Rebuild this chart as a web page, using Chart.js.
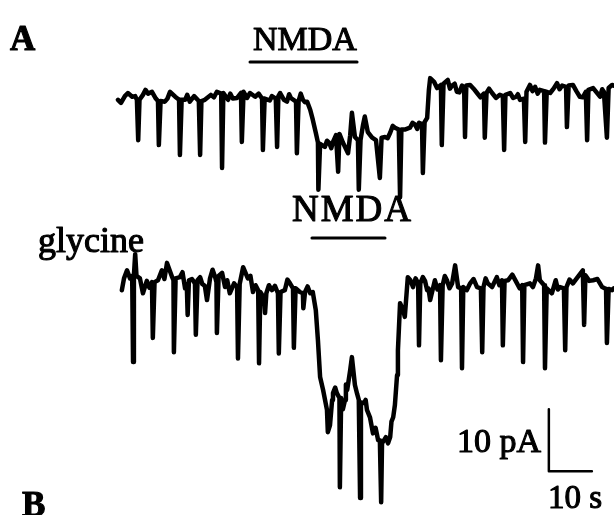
<!DOCTYPE html>
<html>
<head>
<meta charset="utf-8">
<script src="https://cdn.jsdelivr.net/npm/chart.js@4"></script>
<style>
    body { margin: 0; background: #ffffff; }
    canvas { display: block; }
</style>
</head>
<body>
<canvas id="registro" width="614" height="515"></canvas>
<script>
// registro A: NMDA solo. pares [tiempo (s), corriente (pA)] respecto a la linea base
const trazoA = [
    [0, -0.8], [0.7, -1.3], [1.6, -0.2], [2.3, 0.3], [3.3, -0.3], [4.0, -0.2], [4.4, -0.8], [4.7, -7.3], [5.0, -0.8],
    [5.8, 0], [6.4, 0.8], [7.0, 0.2], [7.9, 0.5], [8.8, -0.6], [9.3, -1.0], [9.5, -8.1], [9.9, -1.0], [10.9, -1.1],
    [11.5, -0.6], [12.1, 0.5], [13.3, -0.3], [14.2, -0.8], [14.4, -9.7], [14.8, -0.8], [15.6, -0.8], [16.1, 0],
    [16.7, -1.1], [17.7, -0.2], [18.8, -1.0], [19.1, -9.7], [19.4, -1.0], [20.2, -0.8], [21.6, 0], [22.3, -0.4],
    [23.0, 0.5], [24.0, 0.2], [24.2, -11.8], [24.5, 0.3], [25.6, -0.8], [26.1, 0.2], [26.7, -0.6], [27.7, -0.5],
    [28.6, 0.3], [28.8, -7.6], [29.2, 0.5], [30.0, -0.5], [30.7, 0.3], [31.9, -0.3], [32.7, 0.2], [33.5, -0.6],
    [33.7, -8.9], [34.1, -0.6], [34.9, -0.8], [35.3, -0.9], [35.8, -0.2], [36.7, -0.6], [37.0, -8.4], [37.3, -0.2],
    [37.7, 0.3], [38.6, -0.8], [39.3, -1.1], [39.8, 0.1], [40.2, -0.5], [41.4, -1.1], [41.6, -9.4], [42.0, -1.0],
    [42.5, 0.2], [43.0, -0.8], [43.5, -1.2], [44.0, -1.1], [44.7, -2.4], [45.3, -4.0], [46.0, -6.1], [46.5, -7.7],
    [46.6, -15.3], [47.0, -7.9], [48.1, -8.4], [48.6, -7.4], [49.1, -7.7], [49.6, -8.6], [50.0, -7.6], [50.7, -6.5],
    [51.2, -12.4], [51.5, -6.3], [52.3, -7.7], [53.5, -9.4], [54.0, -6.5], [54.4, -2.9], [55.1, -6.8], [55.8, -7.3],
    [56.0, -15.3], [56.4, -7.3], [57.0, -4.8], [57.4, -3.5], [58.1, -6.0], [59.1, -6.9], [60.0, -7.3], [60.9, -13.4],
    [61.3, -6.9], [62.1, -6.8], [62.7, -7.0], [63.3, -6.1], [63.9, -5.0], [64.4, -5.3], [65.3, -5.6], [65.6, -16.5],
    [65.9, -5.6], [66.7, -5.6], [67.9, -5.3], [68.5, -4.5], [69.1, -4.8], [69.6, -5.5], [70.0, -4.5], [70.7, -4.7],
    [70.9, -12.6], [71.3, -4.4], [71.9, -3.7], [72.3, 0.8], [72.6, 2.7], [73.5, 2.1], [74.2, 1.1], [75.1, 1.6],
    [75.3, -8.1], [75.7, 1.8], [76.7, 2.4], [77.2, 1.0], [77.7, 1.5], [78.3, 1.8], [78.8, 0.5], [79.4, 0.4],
    [80.0, 1.5], [80.5, 1.1], [80.7, -6.8], [81.0, 1.5], [81.9, 1.6], [82.7, 1.0], [83.5, 0.3], [84.3, -0.4],
    [85.1, 0.2], [85.3, -6.9], [85.7, 0.3], [86.3, 1.0], [87.0, 0.3], [87.9, -0.5], [88.8, 0], [89.5, -0.2],
    [89.8, -8.9], [90.1, 0], [91.2, 0.3], [91.9, -0.5], [92.6, -0.3], [93.0, 0.1], [93.5, -0.8], [94.4, -0.6],
    [94.7, -7.6], [95.0, 0.5], [95.8, 1.6], [96.4, 0.6], [97.0, 1.3], [97.6, 0.2], [98.1, 0.8], [99.1, 0.6],
    [99.3, -7.7], [99.7, 0.5], [100.5, 0.3], [101.3, 1.0], [102.1, 1.9], [102.7, 0.9], [103.3, 1.5], [104.2, 1.3],
    [104.4, -5.2], [104.8, 1.5], [105.8, 1.6], [106.6, 0.6], [107.4, -0.3], [108.1, -0.4], [108.8, 0.5],
    [109.1, -7.3], [109.4, 0.8], [110.5, 1.1], [111.3, 0.4], [112.1, -0.3], [112.6, 0.9], [113.0, 0.5],
    [113.7, -6.9], [114.1, 1.1], [114.9, 1.6], [115.3, 1.5]
];

// registro B: NMDA en presencia de glicina
const trazoB = [
    [0.9, -1.3], [1.4, 0.6], [2.1, 1.9], [2.8, 0.6], [3.3, 1.0], [3.5, -12.9], [3.7, 1.1], [4.0, 4.5], [4.3, 1.0],
    [5.1, 0.6], [5.8, -1.8], [6.7, 0.2], [7.3, -0.9], [7.9, 0], [8.1, -9.0], [8.5, 0], [9.3, 0.3], [10.2, 1.9],
    [10.8, 0.5], [11.4, 3.1], [12.6, 0.8], [12.9, 0.3], [13.0, -11.3], [13.4, 0.6], [14.4, 0.8], [15.0, 1.6],
    [15.6, -1.0], [16.0, -0.5], [16.2, -5.3], [16.5, 0.3], [17.2, 0.5], [17.9, -0.2], [18.1, -8.5], [18.5, 0.3],
    [19.1, 0.8], [19.6, -0.3], [20.2, -0.6], [20.7, -2.9], [21.4, 0.6], [22.0, 2.0], [22.6, 0.8], [22.9, 0],
    [23.0, -8.2], [23.4, 1.0], [24.2, 1.5], [24.9, -0.8], [25.4, 0.3], [26.0, -1.8], [26.5, -1.0], [27.0, -0.2],
    [27.7, -0.8], [27.9, -12.3], [28.3, -0.3], [29.1, 2.4], [30.2, 0.6], [30.8, 1.0], [31.4, -1.6], [32.0, -0.5],
    [32.6, -1.3], [32.8, -13.1], [33.1, -1.6], [34.0, -2.6], [34.2, -5.0], [34.5, -1.8], [35.1, -0.5], [35.8, -1.3],
    [36.5, -0.6], [37.2, -1.8], [37.4, -11.5], [37.8, -1.6], [38.8, -1.3], [39.4, 0.4], [40.0, -0.2], [40.7, -1.0],
    [40.9, -10.6], [41.3, -1.0], [42.3, -1.6], [43.0, -1.8], [43.1, -4.2], [43.5, -1.6], [44.1, -0.7], [44.7, -1.8],
    [45.3, -1.6], [46.0, -4.5], [46.5, -9.4], [47.0, -15.3], [47.7, -17.4], [48.6, -20.6], [48.8, -24.2],
    [49.3, -23.1], [49.8, -19.0], [50.0, -17.9], [50.5, -17.0], [50.9, -17.9], [51.5, -18.7], [51.6, -33.1],
    [51.9, -18.7], [52.3, -20.5], [52.8, -19.0], [53.0, -16.5], [53.3, -17.4], [54.0, -14.2], [54.4, -12.1],
    [55.1, -16.6], [55.6, -18.0], [56.0, -19.0], [56.3, -34.8], [56.5, -19.4], [57.2, -19.5], [57.6, -19.0],
    [57.9, -20.6], [58.6, -21.8], [59.3, -24.4], [59.9, -23.5], [60.5, -25.5], [60.9, -25.5], [61.2, -35.5],
    [61.4, -26.0], [62.3, -25.0], [62.8, -26.0], [63.3, -25.0], [63.6, -22.5], [64.0, -21.8], [64.4, -19.8],
    [64.9, -15.0], [65.1, -11.0], [65.6, -3.4], [66.3, -4.5], [66.7, -5.6], [67.4, 0.8], [68.0, 0.3], [68.6, -0.8],
    [69.2, 0.6], [69.8, -0.2], [70.0, -10.2], [70.3, -0.2], [70.9, 0.8], [71.4, 0.2], [71.9, -1.3], [72.2, -1.0],
    [72.6, -2.9], [73.7, 0.3], [74.3, -1.2], [74.9, -0.5], [75.1, -12.6], [75.5, -0.5], [76.0, 1.0], [76.5, 0.3],
    [77.1, -1.0], [77.7, -0.2], [78.4, 2.7], [79.1, -0.8], [79.8, -1.0], [80.0, -13.9], [80.3, -0.8], [81.1, -1.3],
    [81.9, -0.2], [82.7, 0.5], [83.5, -0.8], [84.4, -1.0], [84.7, -11.3], [85.0, -0.8], [85.5, 0.6], [86.0, -0.2],
    [87.0, -0.8], [88.1, 0.8], [88.7, -0.5], [89.3, 0.3], [89.5, -10.2], [89.9, 0.2], [90.7, 0.3], [91.7, 1.2],
    [92.8, -0.2], [93.4, -1.0], [94.0, -0.5], [94.2, -12.9], [94.5, -0.5], [95.8, -0.2], [96.5, -0.8], [97.2, 0.6],
    [97.7, 2.7], [98.1, 0.3], [99.1, -0.5], [99.3, -13.9], [99.7, -1.0], [100.9, -1.8], [101.8, 0.3], [102.3, -1.2],
    [102.8, -0.8], [103.7, -1.0], [104.0, -11.0], [104.3, -0.8], [105.0, 0.4], [105.8, -0.2], [106.9, 0.8],
    [108.1, 1.9], [108.4, -6.9], [108.7, 1.1], [109.6, 0.2], [110.5, 0.3], [111.5, 0.5], [112.6, -0.8],
    [113.5, -1.1], [113.7, -9.8], [114.1, -1.1], [114.9, -1.3], [115.3, -1.0]
];

// aplicacion de NMDA [inicio, fin] en s
const nmdaA = [30.7, 55.6];
const nmdaB = [45.1, 62.1];

// barra de calibracion
const calibracionPA = 10;
const calibracionS = 10;

// posicion vertical de cada registro en el lienzo (pA)
const baseA = -15.3;
const baseB = -45.5;

function desplazar(trazo, base) {
    return trazo.map((p) => ({ x: p[0], y: p[1] + base }));
}

const xCal = 100.2;
const yCal = -76.0;

const linea = (datos, ancho) => ({
    data: datos,
    showLine: true,
    borderColor: "#000000",
    borderWidth: ancho,
    pointRadius: 0,
    tension: 0,
    borderJoinStyle: "round",
    borderCapStyle: "round"
});

function rotulo(ctx, texto, x, y, fuente, espacio) {
    ctx.font = fuente;
    ctx.letterSpacing = espacio || "0px";
    ctx.fillText(texto, x, y);
    ctx.strokeText(texto, x, y);
}

// rotulos
const textos = {
    id: "textos",
    afterDraw(chart) {
        const ctx = chart.ctx;
        const serif = "'Liberation Serif', 'Times New Roman', serif";
        ctx.save();
        ctx.fillStyle = "#000000";
        ctx.strokeStyle = "#000000";
        ctx.lineWidth = 1.1;
        ctx.lineJoin = "round";
        ctx.textBaseline = "alphabetic";
        ctx.textAlign = "left";
        rotulo(ctx, "A", 10, 50, "bold 35px " + serif);
        rotulo(ctx, "B", 22, 516, "bold 35px " + serif);
        rotulo(ctx, "NMDA", 253, 50, "34px " + serif);
        rotulo(ctx, "NMDA", 292, 221, "37px " + serif, "2px");
        rotulo(ctx, "glycine", 38, 252, "36px " + serif);
        rotulo(ctx, "10 pA", 457, 452, "34px " + serif);
        rotulo(ctx, "10 s", 548, 508, "33px " + serif);
        ctx.restore();
    }
};

new Chart(document.getElementById("registro").getContext("2d"), {
    type: "scatter",
    data: {
        datasets: [
            linea(desplazar(trazoA, baseA), 4.5),
            linea(desplazar(trazoB, baseB), 4.5),
            linea([{ x: nmdaA[0], y: -10.0 }, { x: nmdaA[1], y: -10.0 }], 3),
            linea([{ x: nmdaB[0], y: -38.4 }, { x: nmdaB[1], y: -38.4 }], 3),
            linea([
                { x: xCal, y: yCal + calibracionPA },
                { x: xCal, y: yCal },
                { x: xCal + calibracionS, y: yCal }
            ], 2.5)
        ]
    },
    options: {
        responsive: false,
        animation: false,
        layout: { padding: 0 },
        plugins: {
            legend: { display: false },
            tooltip: { enabled: false }
        },
        scales: {
            x: { type: "linear", display: false, min: -27.44, max: 115.35 },
            y: { type: "linear", display: false, min: -83.06, max: 0 }
        }
    },
    plugins: [textos]
});
</script>
</body>
</html>
